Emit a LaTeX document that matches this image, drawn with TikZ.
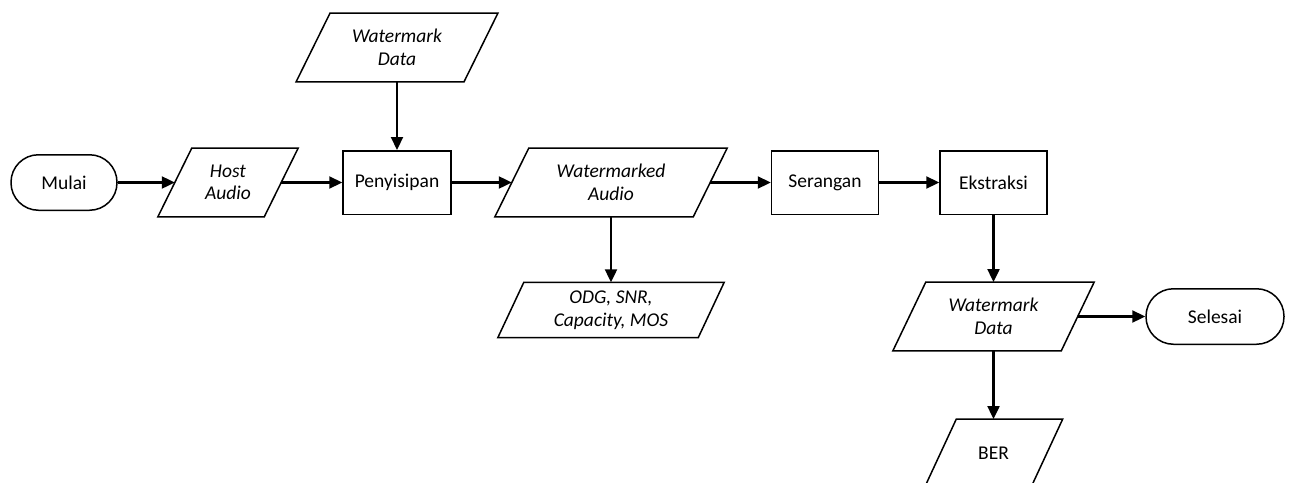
\documentclass[tikz,border=0pt]{standalone}
\usepackage{fontspec}
\setmainfont{Carlito}
\usetikzlibrary{arrows.meta}
\begin{document}
\begin{tikzpicture}[x=1pt,y=-1pt,
  every node/.style={font=\fontsize{19.5pt}{22.5pt}\selectfont, align=center, inner sep=0pt},
  term/.style={draw, line width=1.5pt, rounded corners=27.5pt, minimum width=#1, minimum height=55.5pt},
  procbox/.style={draw, line width=1.5pt, minimum width=107pt, minimum height=63.5pt},
  iobox/.style={minimum width=#1, minimum height=68.5pt, font=\fontsize{19.5pt}{22.5pt}\selectfont\itshape},
  flow/.style={line width=2.2pt, -{Triangle[length=13pt,width=12pt]}},
  shapeline/.style={line width=1.5pt, line join=miter}
]
\useasboundingbox (0,0) rectangle (1292,482);

\node[term=106pt] (mulai) at (64,182.5) {Mulai};
\node[iobox=106pt] (ha) at (228,182.5) {Host\\Audio};
\node[iobox=167.5pt] (wd1) at (397,47.5) {Watermark\\Data};
\node[procbox, minimum width=108pt] (pen) at (397,182.5) {Penyisipan};
\node[iobox=198pt] (wa) at (611,182.5) {Watermarked\\Audio};
\node[iobox=200pt, minimum height=55pt] (odg) at (611,310) {ODG, SNR,\\Capacity, MOS};
\node[procbox] (ser) at (825,182.5) {Serangan};
\node[procbox] (eks) at (993.5,182.5) {Ekstraksi};
\node[iobox=168pt] (wd2) at (993.5,316.5) {Watermark\\Data};
\node[term=138pt] (sel) at (1215,316.5) {Selesai};
\node[iobox=106pt, font=\fontsize{19.5pt}{22.5pt}\selectfont] (ber) at (993.5,453.5) {BER};

\foreach \n/\s in {ha/17,wd1/17,wa/17,odg/13,wd2/16.5,ber/16}
  \draw[shapeline] ([xshift=\s pt]\n.north west) -- ([xshift=\s pt]\n.north east)
    -- ([xshift=-\s pt]\n.south east) -- ([xshift=-\s pt]\n.south west) -- cycle;

\draw[flow] (mulai.east) -- (ha.west);
\draw[flow] (ha.east) -- (pen.west);
\draw[flow] (wd1.south) -- (pen.north);
\draw[flow] (pen.east) -- (wa.west);
\draw[flow] (wa.south) -- (odg.north);
\draw[flow] (wa.east) -- (ser.west);
\draw[flow] (ser.east) -- (eks.west);
\draw[flow] (eks.south) -- (wd2.north);
\draw[flow] (wd2.east) -- (sel.west);
\draw[flow] (wd2.south) -- (ber.north);
\end{tikzpicture}
\end{document}
